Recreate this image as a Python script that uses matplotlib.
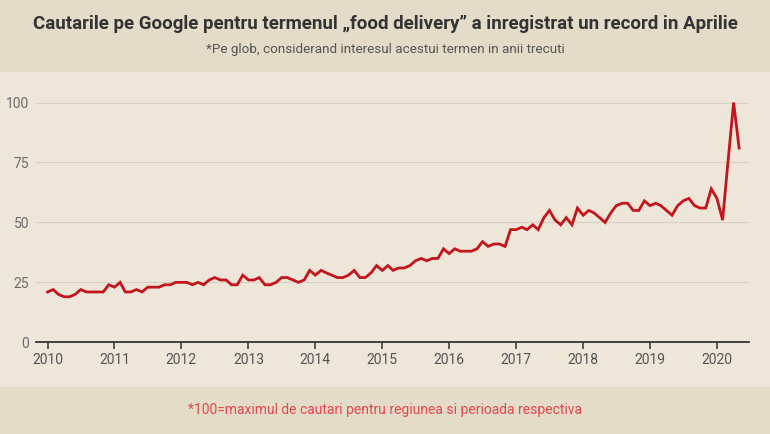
import matplotlib
matplotlib.use("Agg")
import matplotlib.pyplot as plt
import matplotlib.dates as mdates
from matplotlib.patches import Rectangle
import pandas as pd

# Interes lunar pentru "food delivery" (Google Trends, 100 = maxim), ian 2010 - mai 2020
start_luna = "2010-01-01"
valori = [
    21, 22, 20, 19, 19, 20, 22, 21, 21, 21, 21, 24,   # 2010
    23, 25, 21, 21, 22, 21, 23, 23, 23, 24, 24, 25,   # 2011
    25, 25, 24, 25, 24, 26, 27, 26, 26, 24, 24, 28,   # 2012
    26, 26, 27, 24, 24, 25, 27, 27, 26, 25, 26, 30,   # 2013
    28, 30, 29, 28, 27, 27, 28, 30, 27, 27, 29, 32,   # 2014
    30, 32, 30, 31, 31, 32, 34, 35, 34, 35, 35, 39,   # 2015
    37, 39, 38, 38, 38, 39, 42, 40, 41, 41, 40, 47,   # 2016
    47, 48, 47, 49, 47, 52, 55, 51, 49, 52, 49, 56,   # 2017
    53, 55, 54, 52, 50, 54, 57, 58, 58, 55, 55, 59,   # 2018
    57, 58, 57, 55, 53, 57, 59, 60, 57, 56, 56, 64,   # 2019
    60, 51, 75, 100, 81,                              # 2020
]
ani_ticks = list(range(2010, 2021))
y_ticks = [0, 25, 50, 75, 100]

titlu = "Cautarile pe Google pentru termenul \u201efood delivery\u201d a inregistrat un record in Aprilie"
subtitlu = "*Pe glob, considerand interesul acestui termen in anii trecuti"
nota = "*100=maximul de cautari pentru regiunea si perioada respectiva"

luni = pd.date_range(start_luna, periods=len(valori), freq="MS")

plt.rcParams["font.family"] = ["Roboto", "DejaVu Sans"]

fig = plt.figure(figsize=(7.7, 4.34), dpi=100, facecolor="#e4dcc9")

# panoul deschis din spatele graficului
fig.patches.append(Rectangle((0, (434 - 387) / 434), 1, (387 - 72) / 434,
                             transform=fig.transFigure, facecolor="#ede6d9",
                             edgecolor="none", zorder=-5))

ax = fig.add_axes([36 / 770, (434 - 342.3) / 434, 713 / 770, 0.580])
ax.set_facecolor("none")
ax.set_zorder(2)

ax.plot(luni, valori, color="#c3151b", linewidth=2.0, solid_joinstyle="miter")

ax.set_ylim(0, 105)
ax.set_xlim(pd.Timestamp("2009-10-30"), pd.Timestamp("2020-06-24"))
ax.set_yticks(y_ticks)
ax.set_xticks([pd.Timestamp(f"{a}-01-01") for a in ani_ticks])
ax.xaxis.set_major_formatter(mdates.DateFormatter("%Y"))

for s in ["left", "right", "top"]:
    ax.spines[s].set_visible(False)
ax.spines["bottom"].set_color("#333333")
ax.spines["bottom"].set_linewidth(1.3)

ax.grid(axis="y", color="#d9d1c3", linewidth=0.8)
ax.set_axisbelow(True)
ax.tick_params(axis="y", length=0, labelsize=10, labelcolor="#6b6b6b", pad=5)
ax.tick_params(axis="x", length=5, width=1.1, color="#333333", labelsize=10,
               labelcolor="#555555", pad=3)

fig.text(0.5, 1 - 24 / 434, titlu, ha="center", va="center",
         fontsize=13.5, fontweight="bold", color="#333333")
fig.text(0.5, 1 - 49 / 434, subtitlu, ha="center", va="center",
         fontsize=9.7, color="#555555")
fig.text(0.5, 1 - 410 / 434, nota, ha="center", va="center",
         fontsize=10, color="#e8474c")

fig.savefig("out.png", dpi=100, facecolor=fig.get_facecolor())
